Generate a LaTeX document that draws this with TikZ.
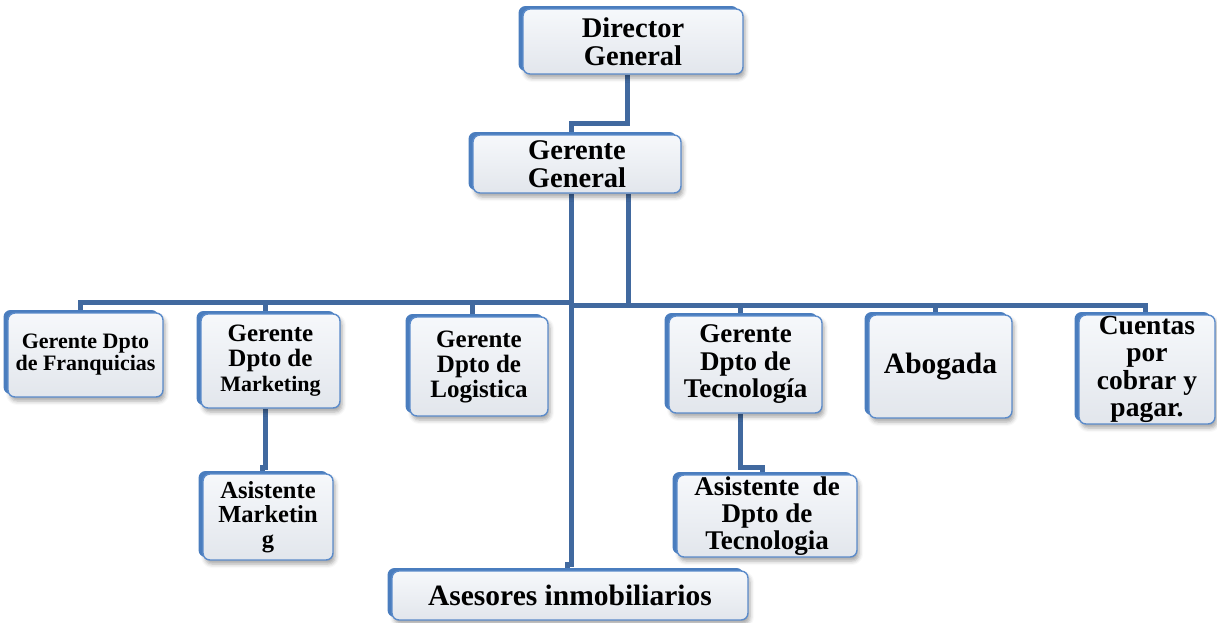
\documentclass[tikz,border=0pt]{standalone}
\usepackage{fontspec}
\setmainfont{Liberation Serif}
\usetikzlibrary{shadows,shadows.blur}
\definecolor{connc}{HTML}{41699F}
\definecolor{bev}{HTML}{4A7DBE}
\definecolor{edgec}{HTML}{5B8BCA}
\definecolor{facetop}{HTML}{F6F8FB}
\definecolor{facebot}{HTML}{E2E6EC}
\newcommand\fsz[2]{\fontsize{#1}{#2}\selectfont}
\pgfdeclarelayer{bg}
\pgfsetlayers{bg,main}
\begin{document}
\begin{tikzpicture}[x=1pt,y=-1pt,
  orgbox/.style={rectangle, rounded corners=7pt, draw=edgec, line width=1.4pt,
    top color=facetop, bottom color=facebot, inner sep=0pt, align=center,
    blur shadow={shadow xshift=2pt, shadow yshift=-4pt, shadow blur radius=4pt, shadow opacity=35},
    drop shadow={shadow xshift=-4.5pt, shadow yshift=3pt, fill=bev, opacity=1}},
  fs/.style 2 args={font=\bfseries\fsz{#1}{#2}},
  link/.style={draw=connc, line width=5pt}]
\useasboundingbox (0,0) rectangle (1217,622);

\node[orgbox, fs={28.5}{28}, minimum width=220pt, minimum height=65pt] (dir) at (633,41.5) {Director\\General};
\node[orgbox, fs={28.5}{28}, minimum width=208pt, minimum height=58pt] (gg) at (577,164) {Gerente\\General};
\node[orgbox, fs={22}{22}, minimum width=155pt, minimum height=84pt] (fr) at (85.5,355) {Gerente Dpto\\de Franquicias};
\node[orgbox, fs={25}{25}, minimum width=139pt, minimum height=94pt] (mk) at (270.5,361) {Gerente\\Dpto de\\\fsz{22}{24}Marketing};
\node[orgbox, fs={25}{25}, minimum width=138pt, minimum height=99pt] (lo) at (479,366.5) {Gerente\\Dpto de\\Logistica};
\node[orgbox, fs={27}{27.5}, minimum width=153pt, minimum height=97pt] (te) at (745.5,364.5) {Gerente\\Dpto de\\Tecnología};
\node[orgbox, fs={29.5}{29}, minimum width=143pt, minimum height=103pt] (ab) at (940.5,366.5) {Abogada};
\node[orgbox, fs={27.5}{27.5}, minimum width=136pt, minimum height=109pt] (cu) at (1147,369.5) {Cuentas\\por\\cobrar y\\pagar.};
\node[orgbox, fs={24.5}{24.5}, minimum width=130pt, minimum height=86pt] (am) at (268,517) {Asistente\\Marketin\\g};
\node[orgbox, fs={27}{27}, minimum width=180pt, minimum height=82pt] (at) at (767,516) {Asistente\ \ de\\Dpto de\\Tecnologia};
\node[orgbox, fs={29.5}{29}, minimum width=356pt, minimum height=49pt] (as) at (570,595.5) {Asesores inmobiliarios};

\coordinate (lbus) at (0,302);
\coordinate (rbus) at (0,305);

\begin{pgfonlayer}{bg}
\draw[link] ([xshift=-6pt]dir.south) |- ([xshift=-6pt,yshift=11pt]gg.north) -- ([xshift=-6pt]gg.north);
\draw[link] ([xshift=-6pt]gg.south) |- ([xshift=-3pt,yshift=6pt]as.north) -- ([xshift=-3pt]as.north);
\draw[link] ([xshift=-5.5pt]fr.north) |- ([xshift=-6pt]gg.south |- lbus);
\draw[link] ([xshift=-5.5pt]mk.north) -- ([xshift=-5.5pt]mk.north |- lbus);
\draw[link] ([xshift=-7pt]lo.north) -- ([xshift=-7pt]lo.north |- lbus);
\draw[link] ([xshift=51pt]gg.south) -- ([xshift=51pt]gg.south |- rbus);
\draw[link] ([xshift=-6pt]gg.south |- rbus) -| ([xshift=-2pt]cu.north);
\draw[link] ([xshift=-5.5pt]te.north) -- ([xshift=-5.5pt]te.north |- rbus);
\draw[link] ([xshift=-5.5pt]ab.north) -- ([xshift=-5.5pt]ab.north |- rbus);
\draw[link] ([xshift=-5.5pt]mk.south) |- ([xshift=-6pt,yshift=6pt]am.north) -- ([xshift=-6pt]am.north);
\draw[link] ([xshift=-5.5pt]te.south) |- ([xshift=-5pt,yshift=7pt]at.north) -- ([xshift=-5pt]at.north);
\end{pgfonlayer}
\end{tikzpicture}
\end{document}
